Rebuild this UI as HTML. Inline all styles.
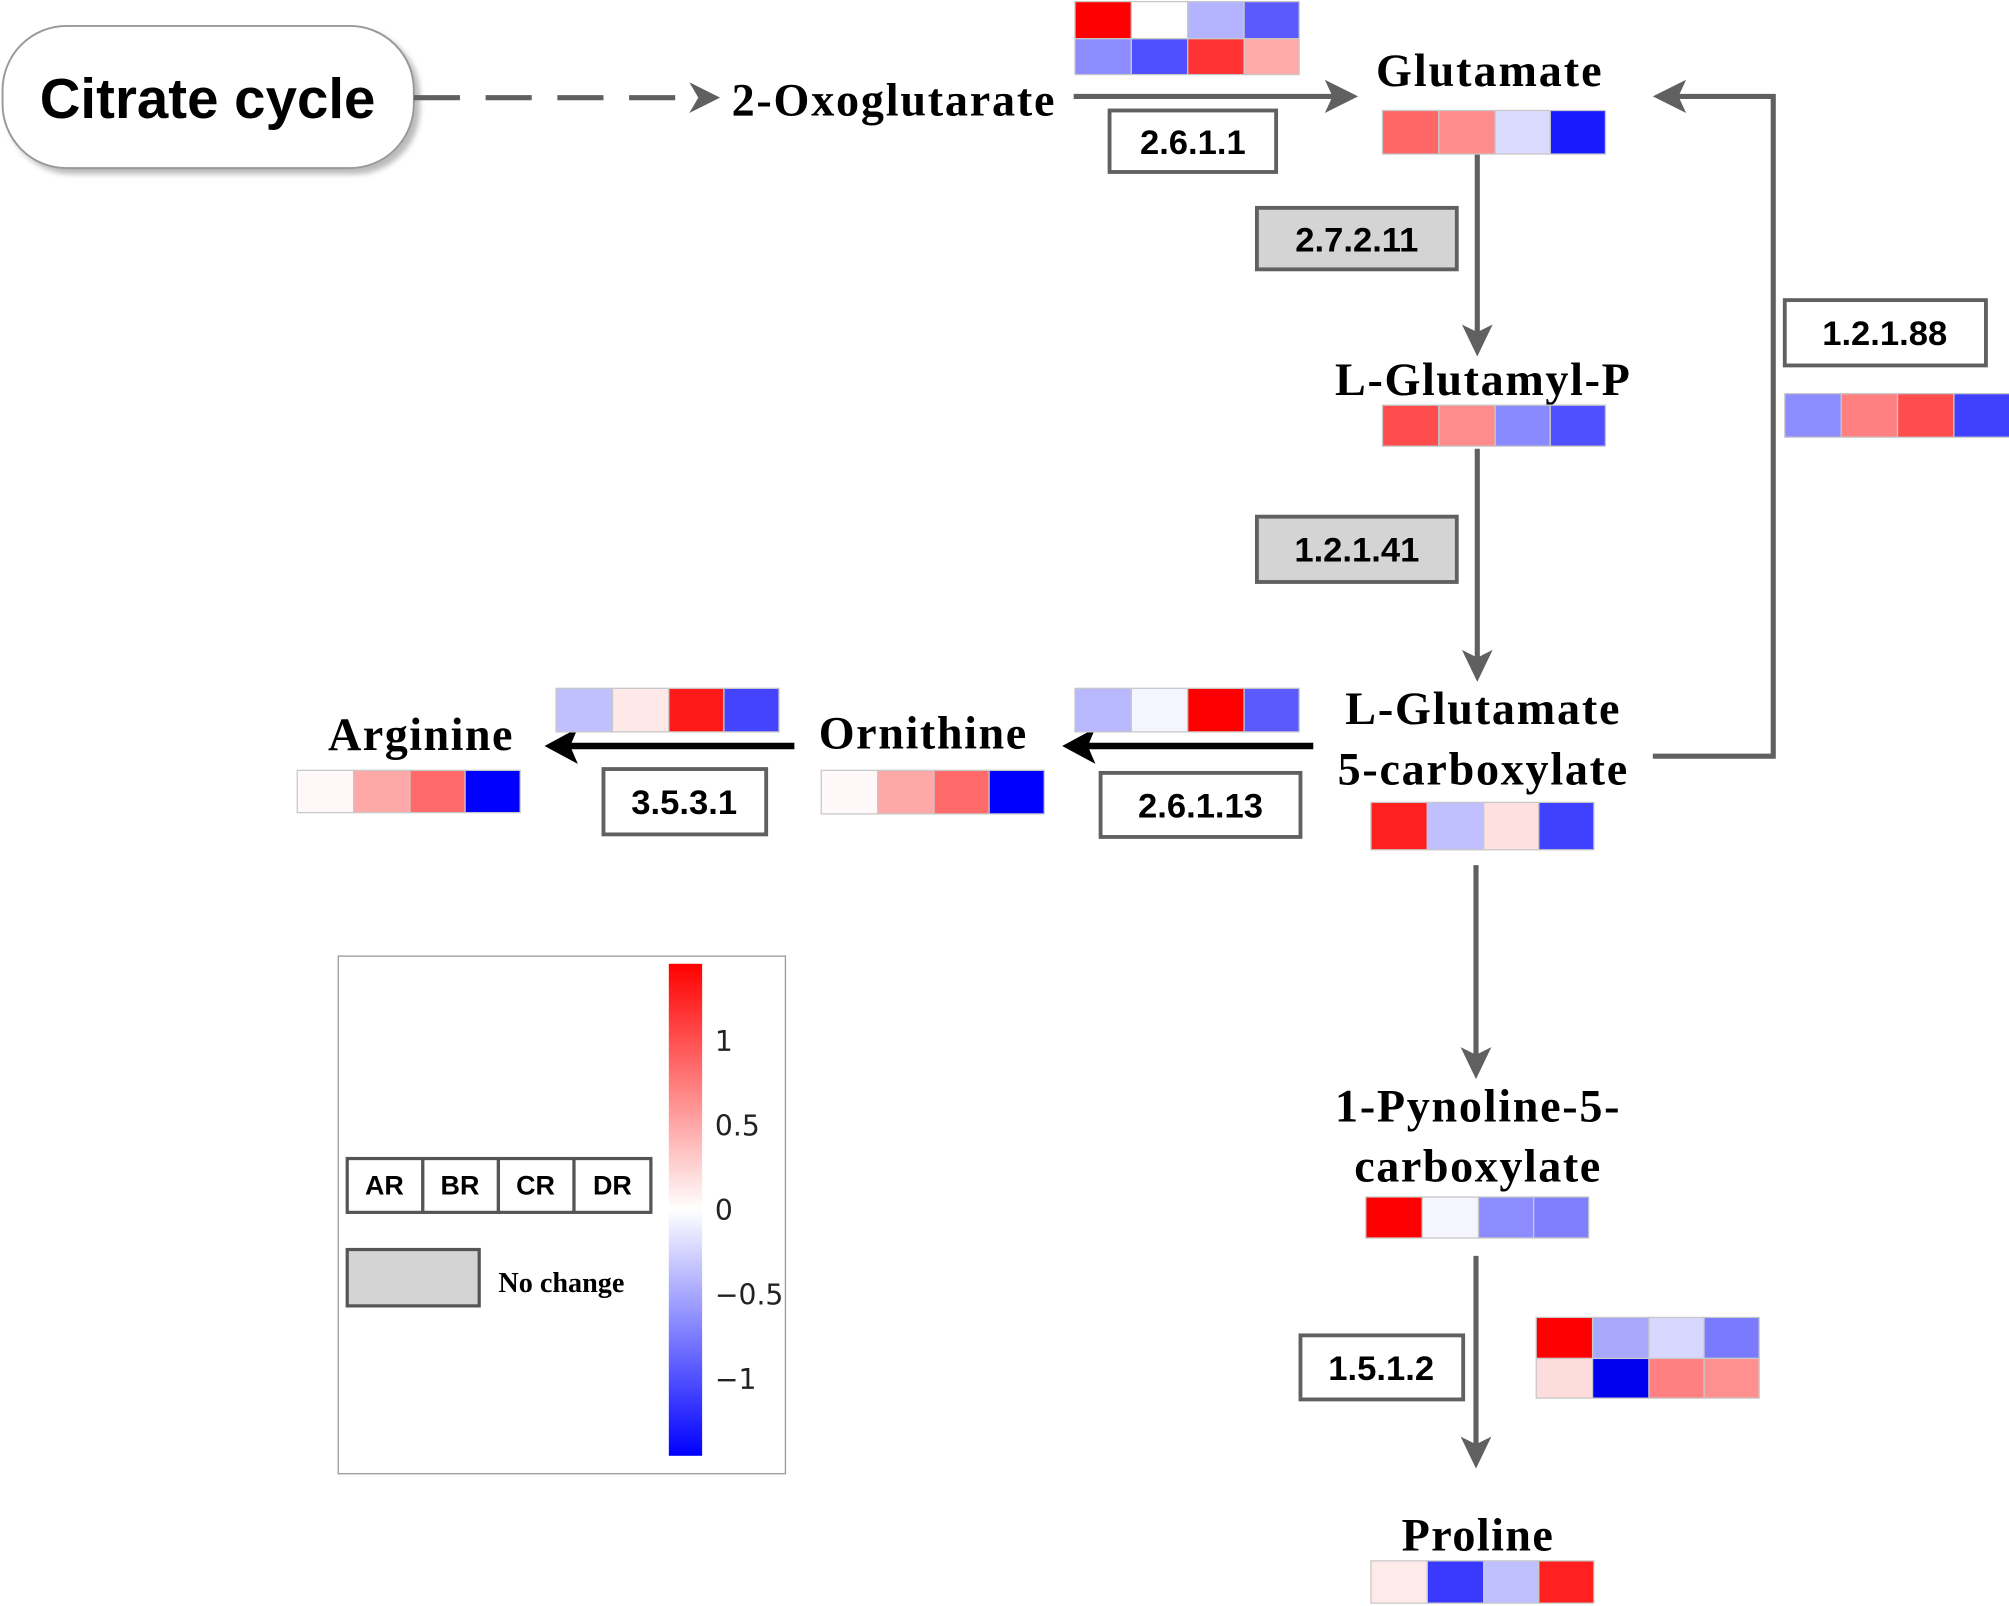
<!DOCTYPE html>
<html><head><meta charset="utf-8"><style>html,body{margin:0;padding:0;background:#fff}svg{display:block}</style></head><body>
<svg width="2009" height="1606" viewBox="0 0 1568 1253" xmlns="http://www.w3.org/2000/svg">
<defs>
<linearGradient id="cb" x1="0" y1="0" x2="0" y2="1"><stop offset="0" stop-color="#ff0000"/><stop offset="0.5" stop-color="#ffffff"/><stop offset="1" stop-color="#0000ff"/></linearGradient>
<filter id="sh"><feDropShadow dx="4" dy="4" stdDeviation="2" flood-color="#bbb"/></filter>
</defs>
<g font-family="Liberation Sans, sans-serif">
<rect x="2" y="20" width="321" height="111" rx="50" fill="#fff" stroke="#999" stroke-width="1.5" filter="url(#sh)"/>
<text x="162" y="92" font-size="44" text-anchor="middle" font-weight="bold" textLength="262">Citrate cycle</text>
</g>
<g stroke="#606060" stroke-width="4" fill="none">
<line x1="323" y1="76" x2="545" y2="76" stroke-dasharray="36,20"/>
<line x1="838" y1="75" x2="1045" y2="75"/>
<line x1="1153" y1="120" x2="1153" y2="262"/>
<line x1="1153" y1="350" x2="1153" y2="515"/>
<polyline points="1290,590 1384,590 1384,75 1305,75"/>
<line x1="1152" y1="675" x2="1152" y2="825"/>
<line x1="1152" y1="980" x2="1152" y2="1130"/>
</g>
<g fill="#606060">
<polygon points="562,76 538,64 545,76 538,88"/>
<polygon points="1060,75 1034,62 1040,75 1034,88"/>
<polygon points="1153,278 1141,253 1153,259 1165,253"/>
<polygon points="1153,532 1141,507 1153,513 1165,507"/>
<polygon points="1290,75 1316,62 1310,75 1316,88"/>
<polygon points="1152,842 1140,817 1152,823 1164,817"/>
<polygon points="1152,1146 1140,1121 1152,1127 1164,1121"/>
</g>
<g stroke="#000" stroke-width="5"><line x1="1025" y1="582" x2="845" y2="582"/><line x1="620" y1="582" x2="442" y2="582"/></g>
<g fill="#000"><polygon points="829,582 855,568 849,582 855,596"/><polygon points="425,582 451,568 445,582 451,596"/></g>
<g font-family="Liberation Serif, serif" font-weight="bold" font-size="36" text-anchor="middle" fill="#000">
<text x="697" y="90" textLength="252">2-Oxoglutarate</text>
<text x="1162" y="67" textLength="176">Glutamate</text>
<text x="1157" y="308" textLength="230">L-Glutamyl-P</text>
<text x="1157" y="565" textLength="214">L-Glutamate</text>
<text x="1157" y="612" textLength="226">5-carboxylate</text>
<text x="720" y="584" textLength="162">Ornithine</text>
<text x="328" y="585" textLength="144">Arginine</text>
<text x="1153" y="875" textLength="222">1-Pynoline-5-</text>
<text x="1153" y="922" textLength="192">carboxylate</text>
<text x="1153" y="1210" textLength="118">Proline</text>
</g>
<g stroke="#606060" stroke-width="3" font-family="Liberation Sans, sans-serif" font-weight="bold" font-size="27" text-anchor="middle">
<rect x="866" y="86" width="130" height="48" fill="#fff"/>
<rect x="981" y="162" width="156" height="48" fill="#d4d4d4"/>
<rect x="981" y="403" width="156" height="51" fill="#d4d4d4"/>
<rect x="1393" y="234" width="157" height="51" fill="#fff"/>
<rect x="859" y="603" width="156" height="50" fill="#fff"/>
<rect x="471" y="600" width="127" height="51" fill="#fff"/>
<rect x="1015" y="1042" width="127" height="50" fill="#fff"/>
</g>
<g font-family="Liberation Sans, sans-serif" font-weight="bold" font-size="27" text-anchor="middle" fill="#000">
<text x="931" y="120">2.6.1.1</text>
<text x="1059" y="196">2.7.2.11</text>
<text x="1059" y="438">1.2.1.41</text>
<text x="1471" y="269">1.2.1.88</text>
<text x="937" y="638">2.6.1.13</text>
<text x="534" y="635">3.5.3.1</text>
<text x="1078" y="1077">1.5.1.2</text>
</g>
<g stroke="#c8c8c8" stroke-width="1">
<!-- top 2-row -->
<rect x="839" y="1" width="44" height="29" fill="#ff0000"/><rect x="883" y="1" width="44" height="29" fill="#ffffff"/><rect x="927" y="1" width="44" height="29" fill="#b3b3ff"/><rect x="971" y="1" width="43" height="29" fill="#5a5aff"/>
<rect x="839" y="30" width="44" height="28" fill="#8c8cff"/><rect x="883" y="30" width="44" height="28" fill="#5050ff"/><rect x="927" y="30" width="44" height="28" fill="#ff3333"/><rect x="971" y="30" width="43" height="28" fill="#ffaaaa"/>
<!-- glutamate -->
<rect x="1079" y="86" width="44" height="34" fill="#ff6666"/><rect x="1123" y="86" width="44" height="34" fill="#ff8c8c"/><rect x="1167" y="86" width="43" height="34" fill="#dadaff"/><rect x="1210" y="86" width="43" height="34" fill="#1a1aff"/>
<!-- glutamyl-P -->
<rect x="1079" y="316" width="44" height="32" fill="#ff4d4d"/><rect x="1123" y="316" width="44" height="32" fill="#ff8c8c"/><rect x="1167" y="316" width="43" height="32" fill="#8a8aff"/><rect x="1210" y="316" width="43" height="32" fill="#5050ff"/>
<!-- 1.2.1.88 -->
<rect x="1393" y="307" width="44" height="34" fill="#8c8cff"/><rect x="1437" y="307" width="44" height="34" fill="#ff8080"/><rect x="1481" y="307" width="44" height="34" fill="#ff4d4d"/><rect x="1525" y="307" width="44" height="34" fill="#4040ff"/>
<!-- L-glu-5-c -->
<rect x="1070" y="626" width="44" height="37" fill="#ff2020"/><rect x="1114" y="626" width="44" height="37" fill="#c0c0ff"/><rect x="1158" y="626" width="43" height="37" fill="#ffe0e0"/><rect x="1201" y="626" width="43" height="37" fill="#4040ff"/>
<!-- 2.6.1.13 -->
<rect x="839" y="537" width="44" height="34" fill="#b8b8ff"/><rect x="883" y="537" width="44" height="34" fill="#f5f5ff"/><rect x="927" y="537" width="44" height="34" fill="#ff0000"/><rect x="971" y="537" width="43" height="34" fill="#5a5aff"/>
<!-- ornithine -->
<rect x="641" y="601" width="44" height="34" fill="#fff8f8"/><rect x="685" y="601" width="44" height="34" fill="#ffa8a8"/><rect x="729" y="601" width="43" height="34" fill="#ff6b6b"/><rect x="772" y="601" width="43" height="34" fill="#0000ff"/>
<!-- 3.5.3.1 -->
<rect x="434" y="537" width="44" height="34" fill="#c0c0ff"/><rect x="478" y="537" width="44" height="34" fill="#ffe8e8"/><rect x="522" y="537" width="43" height="34" fill="#ff1a1a"/><rect x="565" y="537" width="43" height="34" fill="#4444ff"/>
<!-- arginine -->
<rect x="232" y="601" width="44" height="33" fill="#fff8f8"/><rect x="276" y="601" width="44" height="33" fill="#ffa8a8"/><rect x="320" y="601" width="43" height="33" fill="#ff6b6b"/><rect x="363" y="601" width="43" height="33" fill="#0000ff"/>
<!-- P5C -->
<rect x="1066" y="934" width="44" height="32" fill="#ff0000"/><rect x="1110" y="934" width="44" height="32" fill="#f5f5ff"/><rect x="1154" y="934" width="43" height="32" fill="#8c8cff"/><rect x="1197" y="934" width="43" height="32" fill="#8080ff"/>
<!-- 1.5.1.2 -->
<rect x="1199" y="1028" width="44" height="32" fill="#ff0000"/><rect x="1243" y="1028" width="44" height="32" fill="#a8a8ff"/><rect x="1287" y="1028" width="43" height="32" fill="#d8d8ff"/><rect x="1330" y="1028" width="43" height="32" fill="#7a7aff"/>
<rect x="1199" y="1060" width="44" height="31" fill="#ffdcdc"/><rect x="1243" y="1060" width="44" height="31" fill="#0000ee"/><rect x="1287" y="1060" width="43" height="31" fill="#ff8080"/><rect x="1330" y="1060" width="43" height="31" fill="#ff9090"/>
<!-- proline -->
<rect x="1070" y="1218" width="44" height="33" fill="#ffeaea"/><rect x="1114" y="1218" width="44" height="33" fill="#3a3aff"/><rect x="1158" y="1218" width="43" height="33" fill="#c0c0ff"/><rect x="1201" y="1218" width="43" height="33" fill="#ff2020"/>
</g>
<!-- legend -->
<rect x="264" y="746" width="349" height="404" fill="#fff" stroke="#999" stroke-width="1"/>
<g stroke="#555" stroke-width="2.5" fill="#fff">
<rect x="271" y="904" width="59" height="42"/><rect x="330" y="904" width="59" height="42"/><rect x="389" y="904" width="59" height="42"/><rect x="448" y="904" width="60" height="42"/>
<rect x="271" y="975" width="103" height="44" fill="#d4d4d4"/>
</g>
<g font-family="Liberation Sans, sans-serif" font-weight="bold" font-size="21" text-anchor="middle">
<text x="300" y="932">AR</text><text x="359" y="932">BR</text><text x="418" y="932">CR</text><text x="478" y="932">DR</text>
</g>
<text x="389" y="1008" font-family="Liberation Serif, serif" font-weight="bold" font-size="22">No change</text>
<rect x="522" y="752" width="26" height="384" fill="url(#cb)"/>
<g font-family="DejaVu Sans, sans-serif" font-size="22" fill="#222">
<text x="558" y="820">1</text><text x="558" y="886">0.5</text><text x="558" y="952">0</text><text x="558" y="1018">−0.5</text><text x="558" y="1084">−1</text>
</g>
</svg>
</body></html>
